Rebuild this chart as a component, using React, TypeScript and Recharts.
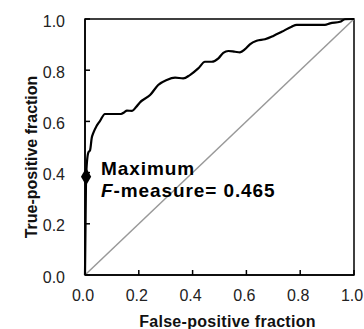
import {
  ComposedChart,
  Line,
  Scatter,
  XAxis,
  YAxis,
  ZAxis,
  ReferenceArea,
  ReferenceLine,
  ReferenceDot,
  Label,
} from 'recharts';

// ROC curve
const fpr = [
  0, 0.002, 0.003, 0.004, 0.012, 0.019, 0.025, 0.031, 0.043, 0.056, 0.074,
  0.134, 0.145, 0.156, 0.175, 0.19, 0.204, 0.242, 0.272, 0.304, 0.335, 0.365,
  0.39, 0.421, 0.446, 0.471, 0.496, 0.514, 0.533, 0.558, 0.576, 0.595, 0.613,
  0.638, 0.669, 0.7, 0.731, 0.768, 0.787, 0.861, 0.892, 0.911, 0.948, 0.967,
  0.996, 1,
];
const tpr = [
  0, 0.2, 0.3, 0.384, 0.477, 0.488, 0.535, 0.555, 0.582, 0.602, 0.629, 0.629,
  0.635, 0.642, 0.641, 0.656, 0.674, 0.703, 0.742, 0.762, 0.771, 0.768, 0.781,
  0.807, 0.833, 0.833, 0.846, 0.868, 0.875, 0.872, 0.87, 0.882, 0.901, 0.915,
  0.921, 0.934, 0.95, 0.97, 0.977, 0.977, 0.977, 0.983, 0.989, 0.999, 1, 1,
];
const ticks = [0, 0.2, 0.4, 0.6, 0.8, 1.0];
const maxPoint = [{ fpr: 0.004, tpr: 0.384 }];
const maxLabel = ['Maximum', 'F', '-measure= 0.465'];

const rocData = fpr.map((x, i) => ({ fpr: x, tpr: tpr[i] }));

const tickStyle = { fontFamily: 'Liberation Sans, Arial', fontSize: 16, fill: '#222' };
const titleFont = 'Liberation Sans, Arial';

function MaxNote(props: any) {
  const { viewBox } = props;
  const x = viewBox.x + 15;
  const y = viewBox.y;
  const font = {
    fontFamily: 'Liberation Sans, Arial',
    fontWeight: 'bold',
    fontSize: 19,
    letterSpacing: 0.9,
    fill: '#000',
  };
  return (
    <g>
      <text x={x} y={y - 2} {...font}>
        {maxLabel[0]}
      </text>
      <text x={x} y={y + 20} {...font}>
        <tspan fontStyle="italic">{maxLabel[1]}</tspan>
        <tspan>{maxLabel[2]}</tspan>
      </text>
    </g>
  );
}

export default function App() {
  return (
    <div style={{ position: 'absolute', left: 0, top: 0, background: '#fff' }}>
      <ComposedChart
        width={364}
        height={329}
        data={rocData}
        margin={{ top: 19, right: 10, left: 0, bottom: 0 }}
      >
        <XAxis
          dataKey="fpr"
          type="number"
          domain={[0, 1]}
          ticks={ticks}
          tickFormatter={(v: number) => v.toFixed(1)}
          height={54}
          tickSize={-5}
          tickMargin={20}
          tick={{ ...tickStyle, dx: -2 }}
          axisLine={{ stroke: '#000', strokeWidth: 1.5 }}
          tickLine={{ stroke: '#000', strokeWidth: 1.5 }}
        >
          <Label
            content={(p: any) => (
              <text
                x={p.viewBox.x + p.viewBox.width / 2 + 8}
                y={p.viewBox.y + 52}
                textAnchor="middle"
                fontFamily={titleFont}
                fontWeight="bold"
                fontSize={16}
                letterSpacing={0.3}
                fill="#111"
              >
                False-positive fraction
              </text>
            )}
          />
        </XAxis>
        <YAxis
          type="number"
          domain={[0, 1]}
          ticks={ticks}
          tickFormatter={(v: number) => v.toFixed(1)}
          width={85}
          tickSize={-5}
          tickMargin={25}
          tick={{ ...tickStyle, dy: 2 }}
          axisLine={{ stroke: '#000', strokeWidth: 1.5 }}
          tickLine={{ stroke: '#000', strokeWidth: 1.5 }}
        >
          <Label
            content={(p: any) => {
              const cx = 31;
              const cy = p.viewBox.y + p.viewBox.height / 2 + 10;
              return (
                <text
                  x={cx}
                  y={cy}
                  transform={`rotate(-90 ${cx} ${cy})`}
                  textAnchor="middle"
                  dominantBaseline="central"
                  fontFamily={titleFont}
                  fontWeight="bold"
                  fontSize={16}
                  fill="#111"
                >
                  True-positive fraction
                </text>
              );
            }}
          />
        </YAxis>
        <ZAxis range={[90, 90]} />
        <ReferenceArea
          x1={0}
          x2={1}
          y1={0}
          y2={1}
          fill="none"
          stroke="#000"
          strokeWidth={1.5}
          ifOverflow="visible"
        />
        <ReferenceLine
          segment={[
            { x: 0, y: 0 },
            { x: 1, y: 1 },
          ]}
          stroke="#999"
          strokeWidth={1.5}
        />
        <Line
          dataKey="tpr"
          type="monotone"
          stroke="#000"
          strokeWidth={2.2}
          dot={false}
          isAnimationActive={false}
        />
        <Scatter
          data={maxPoint}
          dataKey="tpr"
          shape="diamond"
          fill="#000"
          isAnimationActive={false}
        />
        <ReferenceDot
          x={maxPoint[0].fpr}
          y={maxPoint[0].tpr}
          r={0}
          stroke="none"
          fill="none"
          label={<MaxNote />}
        />
      </ComposedChart>
    </div>
  );
}
